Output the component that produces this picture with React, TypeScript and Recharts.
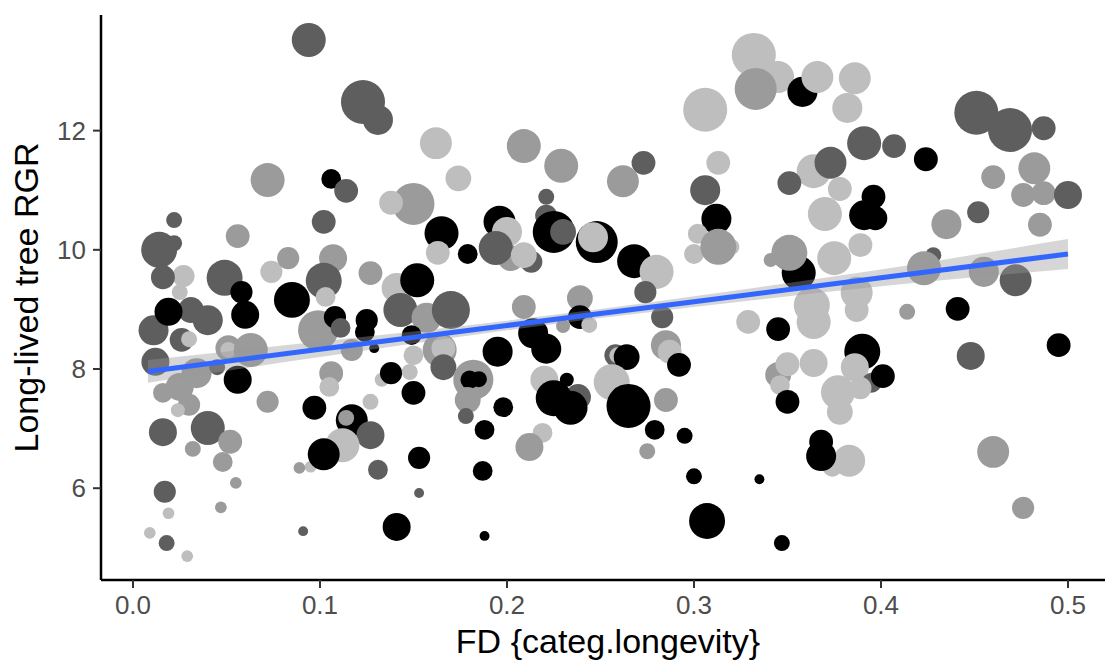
/**
 * Long-lived tree RGR vs FD {categ.longevity} — bubble scatter with a linear fit
 * and its confidence band drawn over the points (ggplot theme_classic look).
 */
import { ComposedChart, Scatter, Line, Area, XAxis, YAxis } from 'recharts';

// [fd, rgr, size, greyClass] — greyClass 0 = black … 3 = light grey
type Pt = [number, number, number, number];

const LEFT_POINTS: Pt[] = [
  [0.011, 8.65, 4.6, 1], [0.014, 10.0, 6.6, 1], [0.022, 10.11, 1.3, 1], [0.022, 10.5, 1.3, 1],
  [0.027, 9.56, 2.5, 3], [0.016, 9.54, 2.9, 1], [0.025, 9.29, 1.3, 3], [0.031, 8.99, 3.4, 1],
  [0.04, 8.82, 4.6, 1], [0.026, 8.49, 2.9, 1], [0.03, 8.5, 1.3, 3], [0.019, 8.96, 4.0, 0],
  [0.012, 8.12, 4.0, 1], [0.034, 7.93, 4.6, 2], [0.025, 7.7, 4.0, 2], [0.016, 7.6, 2.0, 2],
  [0.03, 7.4, 2.5, 2], [0.024, 7.31, 1.0, 3], [0.045, 8.03, 1.3, 1], [0.051, 8.35, 3.4, 2],
  [0.051, 8.32, 1.3, 3], [0.063, 8.32, 5.9, 2], [0.056, 7.82, 4.0, 0], [0.072, 7.45, 2.5, 2],
  [0.016, 6.94, 4.0, 1], [0.04, 7.01, 5.9, 1], [0.052, 6.78, 2.9, 2], [0.032, 6.66, 1.3, 2],
  [0.048, 6.44, 2.0, 2], [0.017, 5.94, 2.5, 1], [0.019, 5.58, 0.7, 3], [0.055, 6.09, 0.7, 2],
  [0.047, 5.68, 0.7, 2], [0.009, 5.25, 0.7, 3], [0.018, 5.08, 1.3, 1], [0.029, 4.86, 0.7, 3],
  [0.056, 10.23, 2.9, 2], [0.072, 11.17, 5.9, 2], [0.049, 9.53, 6.6, 1], [0.058, 9.29, 2.5, 0],
  [0.06, 8.91, 4.0, 0], [0.074, 9.63, 2.5, 3], [0.083, 9.86, 2.5, 2], [0.091, 5.28, 0.5, 1],
  [0.095, 6.36, 0.7, 3], [0.089, 6.34, 0.7, 2], [0.085, 9.16, 6.6, 0], [0.094, 13.52, 5.9, 1],
];

const MID_LEFT_POINTS: Pt[] = [
  [0.107, 9.86, 4.0, 2], [0.102, 9.48, 6.6, 1], [0.103, 9.21, 2.0, 3], [0.102, 10.47, 2.9, 1],
  [0.106, 11.19, 2.0, 0], [0.114, 10.99, 2.9, 1], [0.099, 8.65, 8.2, 2], [0.108, 8.87, 2.5, 0],
  [0.111, 8.69, 2.0, 1], [0.125, 8.82, 2.5, 0], [0.124, 8.62, 2.0, 0], [0.129, 8.35, 0.5, 0],
  [0.117, 8.32, 2.5, 2], [0.106, 7.93, 2.9, 2], [0.105, 7.7, 2.0, 3], [0.097, 7.35, 2.9, 0],
  [0.127, 7.45, 1.3, 3], [0.117, 7.14, 5.2, 0], [0.114, 7.18, 1.3, 2], [0.127, 6.89, 4.0, 1],
  [0.112, 6.72, 5.9, 3], [0.102, 6.57, 5.2, 0], [0.131, 6.31, 2.0, 1], [0.153, 6.51, 2.5, 0],
  [0.153, 5.92, 0.5, 1], [0.141, 5.35, 4.0, 0], [0.123, 12.48, 9.9, 1], [0.131, 12.18, 4.6, 1],
  [0.162, 11.79, 5.2, 3], [0.174, 11.2, 3.4, 3], [0.15, 10.77, 9.0, 2], [0.138, 10.79, 2.9, 3],
  [0.127, 9.61, 2.9, 2], [0.141, 9.36, 4.6, 3], [0.152, 9.49, 5.9, 0], [0.165, 10.28, 5.9, 0],
  [0.163, 9.95, 2.9, 3], [0.179, 9.93, 2.0, 0], [0.143, 8.99, 5.9, 1], [0.157, 8.86, 4.6, 2],
  [0.149, 8.57, 2.0, 0], [0.15, 8.23, 2.0, 3], [0.133, 7.82, 1.0, 3], [0.138, 7.93, 2.5, 0],
  [0.148, 7.95, 1.3, 3], [0.15, 7.6, 2.9, 0], [0.17, 8.99, 7.4, 1], [0.164, 8.32, 5.9, 2],
  [0.166, 8.35, 2.9, 3], [0.166, 8.03, 3.4, 1], [0.182, 7.82, 8.2, 2], [0.18, 7.82, 1.7, 0],
  [0.185, 7.83, 1.3, 0], [0.179, 7.48, 3.4, 2], [0.178, 7.21, 1.3, 1], [0.188, 6.98, 2.0, 0],
  [0.187, 6.29, 2.0, 0], [0.188, 5.2, 0.5, 0], [0.195, 8.29, 4.6, 0], [0.198, 7.36, 2.0, 0],
  [0.196, 10.47, 5.2, 0], [0.2, 10.3, 4.6, 3], [0.202, 9.86, 3.4, 2], [0.213, 9.8, 2.5, 1],
  [0.194, 10.03, 5.9, 1], [0.209, 9.91, 3.4, 3], [0.209, 11.74, 5.9, 2], [0.229, 11.41, 5.9, 2],
];

const MID_POINTS: Pt[] = [
  [0.209, 9.04, 2.9, 2], [0.214, 8.6, 4.6, 0], [0.221, 8.34, 4.6, 0], [0.221, 10.89, 1.3, 1],
  [0.221, 10.57, 2.5, 1], [0.225, 10.3, 9.0, 0], [0.23, 10.3, 3.4, 1], [0.248, 10.13, 9.0, 0],
  [0.246, 10.21, 4.6, 3], [0.239, 9.19, 3.4, 2], [0.239, 8.87, 2.9, 0], [0.23, 8.72, 1.0, 2],
  [0.244, 8.74, 1.3, 3], [0.22, 7.82, 4.0, 3], [0.238, 7.53, 3.4, 1], [0.225, 7.51, 6.6, 0],
  [0.234, 7.35, 5.9, 0], [0.232, 7.82, 1.0, 0], [0.219, 6.93, 2.0, 3], [0.212, 6.69, 4.0, 2],
  [0.273, 11.46, 2.9, 1], [0.262, 11.15, 5.2, 2], [0.268, 9.81, 5.9, 0], [0.28, 9.63, 5.9, 3],
  [0.274, 9.29, 2.5, 1], [0.283, 8.87, 2.5, 1], [0.258, 8.23, 2.5, 1], [0.259, 8.23, 1.3, 3],
  [0.264, 8.2, 3.4, 0], [0.256, 7.78, 6.6, 3], [0.265, 7.38, 9.9, 0], [0.285, 8.4, 4.6, 2],
  [0.287, 8.29, 2.9, 3], [0.292, 8.07, 2.9, 0], [0.285, 7.48, 2.9, 2], [0.279, 6.98, 2.0, 0],
  [0.275, 6.62, 1.3, 2], [0.295, 6.88, 1.3, 0], [0.3, 6.2, 1.3, 0], [0.307, 5.45, 6.6, 0],
];

const RIGHT_POINTS: Pt[] = [
  [0.306, 12.35, 9.9, 3], [0.313, 11.46, 2.9, 3], [0.306, 11.0, 4.6, 1], [0.312, 10.52, 4.6, 0],
  [0.302, 10.27, 2.0, 3], [0.3, 9.93, 2.0, 3], [0.32, 10.05, 1.3, 3], [0.313, 10.05, 6.6, 2],
  [0.329, 8.79, 2.9, 3], [0.332, 13.27, 9.9, 3], [0.345, 12.9, 5.2, 3], [0.333, 12.7, 9.0, 2],
  [0.358, 12.65, 4.6, 0], [0.366, 12.9, 5.2, 3], [0.386, 12.88, 5.2, 3], [0.382, 12.38, 4.6, 3],
  [0.391, 11.79, 5.9, 1], [0.407, 11.74, 2.9, 1], [0.424, 11.52, 2.9, 0], [0.451, 12.3, 9.9, 1],
  [0.469, 12.01, 9.9, 1], [0.487, 12.04, 2.9, 1], [0.364, 11.32, 5.9, 3], [0.351, 11.12, 2.9, 1],
  [0.373, 11.46, 5.2, 1], [0.378, 11.02, 2.9, 3], [0.37, 10.6, 5.9, 3], [0.397, 10.53, 2.9, 0],
  [0.391, 10.58, 4.6, 0], [0.396, 10.89, 2.9, 0], [0.46, 11.22, 2.9, 2], [0.476, 10.92, 2.9, 2],
  [0.487, 10.95, 2.9, 2], [0.482, 11.37, 5.2, 2], [0.5, 10.92, 4.0, 1], [0.435, 10.43, 4.6, 2],
  [0.452, 10.63, 2.5, 1], [0.485, 10.42, 2.9, 2], [0.356, 9.61, 5.9, 0], [0.351, 9.95, 6.6, 2],
  [0.341, 9.83, 1.0, 2], [0.375, 9.86, 5.9, 3], [0.389, 10.08, 2.9, 3], [0.428, 9.91, 1.3, 1],
  [0.423, 9.69, 5.9, 2], [0.455, 9.63, 4.6, 2], [0.472, 9.49, 5.2, 1], [0.363, 9.07, 6.6, 3],
  [0.364, 8.79, 5.9, 3], [0.387, 9.28, 5.2, 3], [0.387, 8.99, 2.9, 3], [0.414, 8.96, 1.3, 2],
  [0.441, 9.01, 2.9, 0], [0.345, 8.67, 2.9, 0], [0.448, 8.22, 4.0, 1], [0.495, 8.4, 2.9, 0],
  [0.345, 7.9, 3.4, 2], [0.35, 8.08, 2.9, 3], [0.346, 7.73, 2.0, 3], [0.35, 7.45, 2.9, 0],
  [0.364, 8.1, 4.0, 3], [0.39, 8.29, 6.6, 0], [0.386, 8.03, 4.0, 3], [0.395, 7.77, 2.0, 1],
  [0.401, 7.88, 2.9, 0], [0.389, 7.68, 2.5, 3], [0.377, 7.61, 5.9, 3], [0.378, 7.28, 3.4, 3],
  [0.383, 6.46, 5.2, 3], [0.374, 6.36, 2.0, 3], [0.368, 6.78, 2.9, 0], [0.368, 6.54, 4.6, 0],
  [0.46, 6.61, 5.2, 2], [0.476, 5.67, 2.5, 2], [0.335, 6.15, 0.5, 0], [0.347, 5.08, 1.3, 0],
];

// linear fit + 95% band, read at a few FD values
const FIT_FD = [0.008, 0.1, 0.2, 0.25, 0.3, 0.4, 0.5];
const FIT_RGR = [7.96, 8.33, 8.73, 8.93, 9.13, 9.53, 9.93];
const CI_LOW = [7.77, 8.2, 8.65, 8.855, 9.04, 9.39, 9.68];
const CI_HIGH = [8.15, 8.46, 8.81, 9.005, 9.22, 9.67, 10.18];

const FD_TICKS = [0, 0.1, 0.2, 0.3, 0.4, 0.5];
const RGR_TICKS = [6, 8, 10, 12];

const GREYS = ['#000000', '#5e5e5e', '#9b9b9b', '#bebebe'];
const FONT = '"Liberation Sans", Arial, Helvetica, sans-serif';

const points = [...LEFT_POINTS, ...MID_LEFT_POINTS, ...MID_POINTS, ...RIGHT_POINTS].map(
  ([fd, rgr, size, cls]) => ({ fd, rgr, size, cls }),
);
const fitData = FIT_FD.map((fd, i) => ({ fd, fit: FIT_RGR[i], ci: [CI_LOW[i], CI_HIGH[i]] }));

const radius = (size: number) => 7 * Math.sqrt(size);

const Bubble = (props: any) => {
  const { cx, cy, payload } = props;
  if (cx == null || cy == null) return null;
  return <circle cx={cx} cy={cy} r={radius(payload.size)} fill={GREYS[payload.cls]} />;
};

export default function App() {
  return (
    <div style={{ position: 'absolute', left: 0, top: 0, width: 1105, height: 663, background: '#fff' }}>
      <ComposedChart width={1105} height={663} margin={{ top: 15, right: 0, left: 0, bottom: 0 }}>
        <XAxis
          dataKey="fd"
          type="number"
          domain={[-0.0171, 0.5198]}
          ticks={FD_TICKS}
          allowDataOverflow
          height={83}
          tickFormatter={(v: number) => v.toFixed(1)}
          axisLine={{ stroke: '#000', strokeWidth: 2.5 }}
          tickLine={{ stroke: '#333', strokeWidth: 2 }}
          tickSize={8}
          tickMargin={8}
          tick={{ fontSize: 26, fill: '#4d4d4d', fontFamily: FONT }}
          label={{
            content: (p: any) => {
              const vb = p.viewBox || { x: 101, y: 580, width: 1004, height: 83 };
              return (
                <text
                  x={vb.x + vb.width / 2 + 5}
                  y={vb.y + 73}
                  textAnchor="middle"
                  fontSize={34}
                  fontFamily={FONT}
                  fill="#000"
                >
                  FD {'{categ.longevity}'}
                </text>
              );
            },
          }}
        />
        <YAxis
          type="number"
          domain={[4.46, 13.94]}
          ticks={RGR_TICKS}
          allowDataOverflow
          width={101}
          axisLine={{ stroke: '#000', strokeWidth: 2.5 }}
          tickLine={{ stroke: '#333', strokeWidth: 2 }}
          tickSize={8}
          tickMargin={7}
          tick={{ fontSize: 26, fill: '#4d4d4d', fontFamily: FONT }}
          label={{
            content: (p: any) => {
              const vb = p.viewBox || { x: 0, y: 15, width: 101, height: 565 };
              const cx = vb.x + 26;
              const cy = vb.y + vb.height / 2;
              return (
                <text
                  x={cx}
                  y={cy}
                  transform={`rotate(-90 ${cx} ${cy})`}
                  textAnchor="middle"
                  dominantBaseline="central"
                  fontSize={34}
                  fontFamily={FONT}
                  fill="#000"
                >
                  Long-lived tree RGR
                </text>
              );
            },
          }}
        />
        <Scatter data={points} dataKey="rgr" shape={Bubble} isAnimationActive={false} />
        <Area
          data={fitData}
          dataKey="ci"
          type="monotone"
          stroke="none"
          fill="#999999"
          fillOpacity={0.4}
          isAnimationActive={false}
          zIndex={700}
        />
        <Line
          data={fitData}
          dataKey="fit"
          type="linear"
          stroke="#3366ff"
          strokeWidth={5}
          dot={false}
          activeDot={false}
          isAnimationActive={false}
          zIndex={710}
        />
      </ComposedChart>
    </div>
  );
}
